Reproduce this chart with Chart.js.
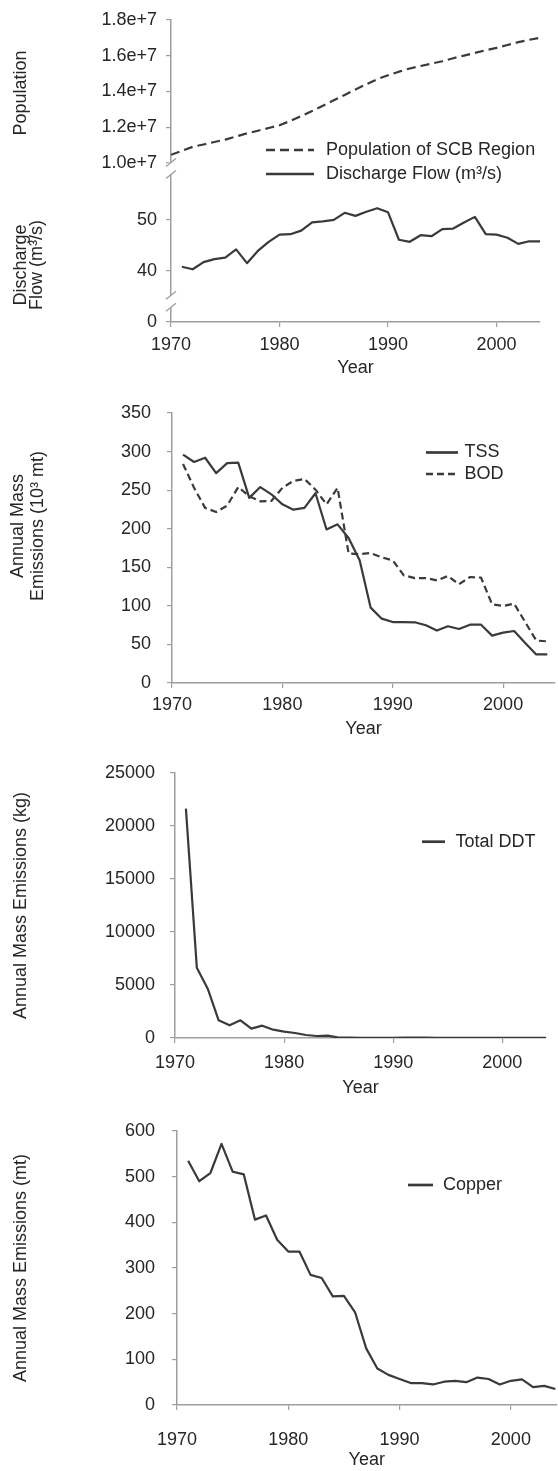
<!DOCTYPE html>
<html>
<head>
<meta charset="utf-8">
<script src="https://cdn.jsdelivr.net/npm/chart.js@4/dist/chart.umd.min.js"></script>
<style>
html,body{margin:0;padding:0;background:#fff;}
body{width:558px;height:1471px;position:relative;overflow:hidden;}
canvas{position:absolute;left:0;}
</style>
</head>
<body>
<canvas id="c1" width="558" height="380" style="top:0px"></canvas>
<canvas id="c2" width="558" height="360" style="top:380px"></canvas>
<canvas id="c3" width="558" height="360" style="top:740px"></canvas>
<canvas id="c4" width="558" height="371" style="top:1100px"></canvas>
<script>
// ---------------- data ----------------
const years = [1971,1972,1973,1974,1975,1976,1977,1978,1979,1980,1981,1982,1983,1984,1985,1986,1987,
               1988,1989,1990,1991,1992,1993,1994,1995,1996,1997,1998,1999,2000,2001,2002,2003,2004];
const popYears = [1970,1971,1972,1973,1974,1975,1976,1977,1978,1979,1980,1981,1982,1983,1984,1985,1986,1987,
                  1988,1989,1990,1991,1992,1993,1994,1995,1996,1997,1998,1999,2000,2001,2002,2003,2004];
const yearTicks = [1970, 1980, 1990, 2000];

const population = [1.045e7,1.068e7,1.090e7,1.103e7,1.117e7,1.130e7,1.148e7,1.165e7,1.180e7,1.195e7,
                    1.210e7,1.235e7,1.262e7,1.290e7,1.320e7,1.350e7,1.380e7,1.410e7,1.440e7,1.468e7,
                    1.490e7,1.510e7,1.528e7,1.542e7,1.555e7,1.568e7,1.585e7,1.600e7,1.615e7,1.630e7,
                    1.643e7,1.659e7,1.675e7,1.688e7,1.699e7];
const dischargeFlow = [40.8,40.3,41.7,42.3,42.6,44.2,41.5,43.9,45.7,47.1,47.2,47.9,49.5,49.7,50.0,51.4,50.8,
                       51.6,52.3,51.5,46.1,45.7,47.0,46.8,48.2,48.3,49.5,50.6,47.2,47.1,46.5,45.3,45.8,45.8];
const popTicks = [1.0e7, 1.2e7, 1.4e7, 1.6e7, 1.8e7];
const flowTicks = [40, 50];
const zeroTicks = [0];

const tss = [296,286.5,292,272,285,285.6,240,254,244.6,231.6,224.7,227,246,199,205.7,188,159,
             97.7,83.4,79,79,78.7,74.8,68,73.5,70,75.6,75.6,61.4,65.3,67.4,52,37,37];
const bod = [284,253,227,221.7,230,254,242,235.5,236,253,262,264.5,250.6,231.6,253,168,167,
             168.5,163,159,139.6,136,136,133,138.7,128,137.4,136.6,102,99.8,102.8,79,55,54];
const massTicks = [0,50,100,150,200,250,300,350];

const ddt = [21635,6635,4654,1667,1195,1667,880,1163,786,597,470,283,189,220,31,30,25,
             20,20,15,30,40,35,20,15,15,10,10,10,10,10,10,10,10];
const ddtTicks = [0,5000,10000,15000,20000,25000];

const copper = [535,490,508,572,511,505,406,415,362,336,336,285,278,238,239,203,124,
                80,66,57,48,48,45,51,53,50,60,57,45,53,56,39,42,35];
const copperTicks = [0,100,200,300,400,500,600];

// ---------------- style ----------------
const FONT = "'Liberation Sans', Arial, Helvetica, sans-serif";
const TEXT = '#262626';
const INK = '#3a3a3a';
const AXIS = '#9e9e9e';
Chart.defaults.font.family = FONT;
Chart.defaults.font.size = 18;
Chart.defaults.color = TEXT;

const pts = (xs, ys) => xs.map((x, i) => ({ x: x, y: ys[i] }));

function lineDs(label, xs, ys, dash, axisId) {
  const d = { label: label, data: pts(xs, ys), borderColor: INK, borderWidth: 2.2, pointRadius: 0,
              tension: 0, fill: false, borderJoinStyle: 'round', borderCapStyle: 'butt' };
  if (dash) d.borderDash = dash;
  if (axisId) d.yAxisID = axisId;
  return d;
}

function xAxis(o) {
  return {
    type: 'linear', position: 'bottom', min: o.min, max: o.max,
    afterBuildTicks: s => { s.ticks = yearTicks.map(v => ({ value: v })); },
    afterFit: s => { s.height = o.height; },
    ticks: { padding: o.pad, autoSkip: false, maxRotation: 0, callback: v => String(v) },
    grid: { drawOnChartArea: false, drawTicks: true, tickLength: 5, color: AXIS, lineWidth: 1.2 },
    border: { display: true, color: AXIS, width: 1.5 },
    title: { display: true, text: 'Year', padding: { top: 0, bottom: o.titlePad } }
  };
}

function yAxis(o) {
  const s = {
    type: 'linear', position: 'left', min: o.min, max: o.max,
    afterBuildTicks: sc => { sc.ticks = o.ticks.map(v => ({ value: v })); },
    afterFit: sc => { sc.width = o.width; },
    ticks: { padding: o.pad, autoSkip: false, callback: o.fmt || (v => String(v)) },
    grid: { drawOnChartArea: false, drawTicks: true, tickLength: 5, color: AXIS, lineWidth: 1.2 },
    border: { display: true, color: AXIS, width: 1.5 },
    title: o.title ? { display: true, text: o.title, padding: { top: 10, bottom: 0 } } : { display: false }
  };
  if (o.stack) { s.stack = o.stack; s.stackWeight = o.stackWeight; s.weight = o.weight; }
  return s;
}

function inlineLegend(cfg) {
  return {
    id: 'inlineLegend',
    afterDatasetsDraw(chart) {
      const ctx = chart.ctx;
      ctx.save();
      ctx.font = '18px ' + FONT;
      ctx.textAlign = 'left';
      ctx.textBaseline = 'middle';
      chart.data.datasets.forEach((ds, i) => {
        const y = cfg.rows[i];
        ctx.strokeStyle = ds.borderColor;
        ctx.lineWidth = ds.borderWidth + 0.5;
        ctx.setLineDash(ds.borderDash || []);
        ctx.beginPath(); ctx.moveTo(cfg.x0, y); ctx.lineTo(cfg.x1, y); ctx.stroke();
        ctx.setLineDash([]);
        ctx.fillStyle = TEXT;
        ctx.fillText(ds.label, cfg.tx, y);
      });
      ctx.restore();
    }
  };
}

function yTitles(items) {
  return {
    id: 'yTitles',
    afterDraw(chart) {
      const ctx = chart.ctx;
      ctx.save();
      ctx.font = '18px ' + FONT;
      ctx.fillStyle = TEXT;
      ctx.textAlign = 'center';
      ctx.textBaseline = 'middle';
      items.forEach(t => {
        ctx.save(); ctx.translate(t.x, t.y); ctx.rotate(-Math.PI / 2);
        ctx.fillText(t.text, 0, 0); ctx.restore();
      });
      ctx.restore();
    }
  };
}

function axisBreaks(ids) {
  return {
    id: 'axisBreaks',
    afterDraw(chart) {
      const ctx = chart.ctx;
      const x = chart.chartArea.left;
      ctx.save();
      ids.forEach(id => {
        const y = chart.scales[id].bottom;
        ctx.fillStyle = '#fff';
        ctx.fillRect(x - 2.5, y - 6, 5, 12);
        ctx.strokeStyle = AXIS; ctx.lineWidth = 1.4;
        [-6, 6].forEach(d => {
          ctx.beginPath(); ctx.moveTo(x - 5, y + d + 4); ctx.lineTo(x + 5, y + d - 4); ctx.stroke();
        });
      });
      ctx.restore();
    }
  };
}

const common = {
  responsive: false, animation: false, events: [],
  plugins: { legend: { display: false }, tooltip: { enabled: false } }
};

// ---------------- Panel 1: population & discharge flow ----------------
new Chart(document.getElementById('c1'), {
  type: 'line',
  data: { datasets: [
    lineDs('Population of SCB Region', popYears, population, [9, 5], 'yPop'),
    lineDs('Discharge Flow (m\u00b3/s)', years, dischargeFlow, null, 'yFlow')
  ]},
  options: Object.assign({}, common, {
    layout: { padding: { left: 0, top: 15, right: 18, bottom: 0 } },
    scales: {
      x: xAxis({ min: 1970, max: 2004, height: 58, pad: 7, titlePad: 1 }),
      yPop: yAxis({ min: 9.69e6, max: 1.8e7, ticks: popTicks, width: 171, pad: 9,
                    fmt: v => v.toExponential(1), stack: 'left', stackWeight: 151, weight: 3 }),
      yFlow: yAxis({ min: 34.0, max: 60.12, ticks: flowTicks, width: 171, pad: 9,
                     stack: 'left', stackWeight: 135, weight: 2 }),
      yZero: yAxis({ min: 0, max: 1, ticks: zeroTicks, width: 171, pad: 9,
                     stack: 'left', stackWeight: 21, weight: 1 })
    }
  }),
  plugins: [
    axisBreaks(['yPop', 'yFlow']),
    inlineLegend({ x0: 266, x1: 314, tx: 326, rows: [150, 174] }),
    yTitles([{ text: 'Population', x: 21, y: 93 },
             { text: 'Discharge', x: 21, y: 265 },
             { text: 'Flow (m\u00b3/s)', x: 37, y: 265 }])
  ]
});

// ---------------- Panel 2: TSS & BOD ----------------
new Chart(document.getElementById('c2'), {
  type: 'line',
  data: { datasets: [
    lineDs('TSS', years, tss, null),
    lineDs('BOD', years, bod, [7, 4])
  ]},
  options: Object.assign({}, common, {
    layout: { padding: { left: 0, top: 33, right: 3, bottom: 0 } },
    scales: {
      x: xAxis({ min: 1970, max: 2004.7, height: 57, pad: 6, titlePad: 0 }),
      y: yAxis({ min: 0, max: 350, ticks: massTicks, width: 172, pad: 16 })
    }
  }),
  plugins: [
    inlineLegend({ x0: 426, x1: 458, tx: 464.5, rows: [72.5, 94] }),
    yTitles([{ text: 'Annual Mass', x: 18, y: 146 },
             { text: 'Emissions (10\u00b3 mt)', x: 38, y: 146 }])
  ]
});

// ---------------- Panel 3: Total DDT ----------------
new Chart(document.getElementById('c3'), {
  type: 'line',
  data: { datasets: [ lineDs('Total DDT', years, ddt, null) ] },
  options: Object.assign({}, common, {
    layout: { padding: { left: 0, top: 33, right: 12, bottom: 0 } },
    scales: {
      x: xAxis({ min: 1970, max: 2004, height: 62, pad: 9, titlePad: 1 }),
      y: yAxis({ min: 0, max: 25000, ticks: ddtTicks, width: 175, pad: 15,
                 title: 'Annual Mass Emissions (kg)' })
    }
  }),
  plugins: [ inlineLegend({ x0: 422, x1: 445, tx: 455.5, rows: [101.7] }) ]
});

// ---------------- Panel 4: Copper ----------------
new Chart(document.getElementById('c4'), {
  type: 'line',
  data: { datasets: [ lineDs('Copper', years, copper, null) ] },
  options: Object.assign({}, common, {
    layout: { padding: { left: 0, top: 31, right: 1.5, bottom: 0 } },
    scales: {
      x: xAxis({ min: 1970, max: 2004.1, height: 66, pad: 19, titlePad: 0 }),
      y: yAxis({ min: 0, max: 600, ticks: copperTicks, width: 177, pad: 17,
                 title: 'Annual Mass Emissions (mt)' })
    }
  }),
  plugins: [ inlineLegend({ x0: 408, x1: 433, tx: 443, rows: [85] }) ]
});
</script>
</body>
</html>
